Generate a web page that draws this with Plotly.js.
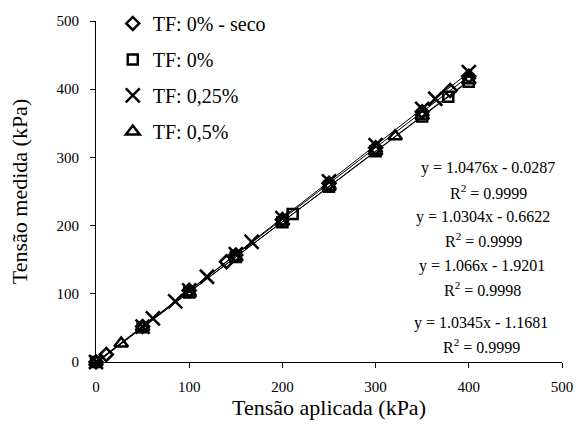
<!DOCTYPE html>
<html>
<head>
<meta charset="utf-8">
<script src="https://cdn.plot.ly/plotly-3.0.1.min.js"></script>
<style>
html,body{margin:0;padding:0;background:#fff}
#chart{width:578px;height:439px}
#chart text{font-family:'Liberation Serif','Times New Roman',Times,serif !important}
</style>
</head>
<body>
<div id="chart"></div>
<script>
// Series names
const seriesNames = ["TF: 0% - seco", "TF: 0%", "TF: 0,25%", "TF: 0,5%"];

// Applied stress (kPa) per series
const xSeco = [0, 11, 50, 100, 140, 150, 200, 250, 300, 350, 380, 400];
const xTF0 = [0, 50, 100, 150, 200, 211, 250, 300, 350, 378, 400];
const xTF025 = [0, 50, 61, 85, 100, 119, 150, 167, 200, 250, 300, 350, 364, 400];
const xTF05 = [0, 27, 50, 100, 150, 200, 250, 300, 321, 350, 400];

// Measured stress (kPa) per series
const ySeco = [0, 11, 52, 105, 147, 157, 209, 262, 314, 367, 398, 419];
const yTF0 = [0, 51, 102, 154, 205, 217, 257, 309, 360, 389, 411];
const yTF025 = [0, 52, 64, 89, 105, 125, 158, 176, 211, 265, 318, 371, 386, 425];
const yTF05 = [0, 27, 51, 102, 154, 206, 257, 309, 331, 361, 413];

// Linear trend coefficients (from chart labels)
const slopes = [1.0476, 1.0304, 1.066, 1.0345];
const intercepts = [-0.0287, -0.6622, -1.9201, -1.1681];
const r2 = ["0.9999", "0.9999", "0.9998", "0.9999"];

const xs = [xSeco, xTF0, xTF025, xTF05];
const ys = [ySeco, yTF0, yTF025, yTF05];
const symbols = ["diamond-open", "square-open", "x-thin-open", "triangle-up-open"];
const sizes = [10, 10, 14, 12];

const serif = "Liberation Serif";

const traces = [];
for (let i = 0; i < 4; i++) {
  const x0 = Math.min(...xs[i]), x1 = Math.max(...xs[i]);
  traces.push({
    x: [x0, x1], y: [slopes[i] * x0 + intercepts[i], slopes[i] * x1 + intercepts[i]],
    type: "scatter", mode: "lines", showlegend: false, hoverinfo: "skip",
    line: {color: "#000", width: 1}
  });
}
for (let i = 0; i < 4; i++) {
  traces.push({
    x: xs[i], y: ys[i], type: "scatter", mode: "markers",
    name: seriesNames[i], legendgroup: "g" + i,
    marker: {symbol: symbols[i], size: sizes[i], color: "#000", line: {color: "#000", width: 2.5}},
    cliponaxis: false
  });
}

const eqY = [168, 217, 266, 323];
const r2Y = [192, 240, 289, 346];
const eqX = [488, 483, 482, 481];
const annotations = [];
for (let i = 0; i < 4; i++) {
  const b = intercepts[i];
  annotations.push({
    xref: "paper", yref: "paper",
    x: (eqX[i] - 96) / 466, y: (362.5 - eqY[i]) / 341.5,
    xanchor: "center", yanchor: "middle", showarrow: false,
    text: "y = " + String(slopes[i]) + "x " + (b < 0 ? "- " : "+ ") + String(Math.abs(b)),
    font: {family: serif, size: 16, color: "#000"}
  });
  annotations.push({
    xref: "paper", yref: "paper",
    x: (eqX[i] - 96) / 466, y: (362.5 - r2Y[i]) / 341.5,
    xanchor: "center", yanchor: "middle", showarrow: false,
    text: "R<sup>2</sup> = " + r2[i],
    font: {family: serif, size: 16, color: "#000"}
  });
}

const layout = {
  width: 578, height: 439,
  margin: {l: 96, r: 16, t: 21, b: 76.5, autoexpand: false},
  paper_bgcolor: "#fff", plot_bgcolor: "#fff",
  font: {family: serif, color: "#000", size: 15},
  showlegend: true,
  legend: {
    x: 0.036, y: 1.05, xanchor: "left", yanchor: "top",
    traceorder: "grouped", tracegroupgap: 7,
    font: {family: serif, size: 20, color: "#000"},
    bgcolor: "rgba(0,0,0,0)", itemwidth: 30
  },
  xaxis: {
    range: [0, 500], dtick: 100, showgrid: false, zeroline: false,
    showline: true, linecolor: "#000", linewidth: 1,
    ticks: "outside", ticklen: 5, tickcolor: "#000", ticklabelstandoff: 6,
    tickfont: {family: serif, size: 15, color: "#000"},
    title: {text: "Tensão aplicada (kPa)", font: {family: serif, size: 22, color: "#000"}, standoff: 5}
  },
  yaxis: {
    range: [0, 500], dtick: 100, showgrid: false, zeroline: false,
    showline: true, linecolor: "#000", linewidth: 1,
    ticks: "outside", ticklen: 5, tickcolor: "#000", ticklabelstandoff: 8,
    tickfont: {family: serif, size: 15, color: "#000"},
    title: {text: "Tensão medida (kPa)", font: {family: serif, size: 22, color: "#000"}, standoff: 22}
  },
  annotations: annotations
};

Plotly.newPlot("chart", traces, layout, {displayModeBar: false});
</script>
</body>
</html>
